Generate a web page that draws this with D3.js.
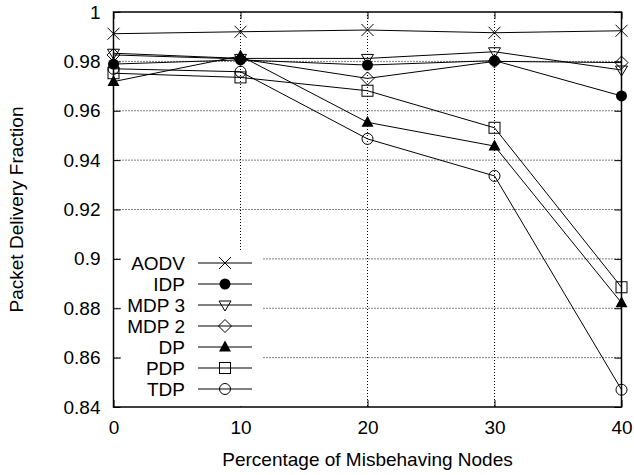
<!DOCTYPE html>
<html><head><meta charset="utf-8">
<script src="https://cdn.jsdelivr.net/npm/d3@7"></script>
<style>
body{margin:0;background:#fff;}
svg text{font-family:"Liberation Sans",Arial,Helvetica,sans-serif;fill:#000;}
</style></head>
<body><svg id="c" width="634" height="475"></svg>
<script>
const xValues = [0, 10, 20, 30, 40];
const seriesNames = ["AODV", "IDP", "MDP 3", "MDP 2", "DP", "PDP", "TDP"];
const aodv = [0.9912, 0.9920, 0.9927, 0.9916, 0.9924];
const idp  = [0.9789, 0.9806, 0.9785, 0.9803, 0.9660];
const mdp3 = [0.9833, 0.9812, 0.9812, 0.9839, 0.9765];
const mdp2 = [0.9826, 0.9810, 0.9731, 0.9800, 0.9795];
const dp   = [0.9718, 0.9822, 0.9553, 0.9457, 0.8822];
const pdp  = [0.9752, 0.9735, 0.9681, 0.9531, 0.8885];
const tdp  = [0.9770, 0.9758, 0.9486, 0.9336, 0.8470];
const xTicks = [0, 10, 20, 30, 40];
const yTicks = [0.84, 0.86, 0.88, 0.9, 0.92, 0.94, 0.96, 0.98, 1];
const yTickLabels = ["0.84", "0.86", "0.88", "0.9", "0.92", "0.94", "0.96", "0.98", "1"];
const markers = ["cross", "fcircle", "dtri", "diamond", "ftri", "square", "circle"];

const series = seriesNames.map((n, i) => ({name: n, values: [aodv, idp, mdp3, mdp2, dp, pdp, tdp][i], marker: markers[i]}));

const svg = d3.select("#c");
const L = 113.5, R = 621.5, T = 12, B = 407;
const x = d3.scaleLinear().domain([0, 40]).range([L, R]);
const y = d3.scaleLinear().domain([0.84, 1]).range([B, T]);

// grid
const g = svg.append("g");
g.selectAll(".gx").data(xTicks.slice(1, -1)).enter().append("line")
  .attr("x1", d => x(d)).attr("x2", d => x(d)).attr("y1", T).attr("y2", B)
  .attr("stroke", "#000").attr("stroke-width", 1).attr("stroke-dasharray", "1,2");
g.selectAll(".gy").data(yTicks.slice(1, -1)).enter().append("line")
  .attr("x1", L).attr("x2", R).attr("y1", d => y(d)).attr("y2", d => y(d))
  .attr("stroke", "#000").attr("stroke-width", 1).attr("stroke-dasharray", "1,2");

// axes
const fs = 19;
const ax = svg.append("g").attr("transform", `translate(0,${B})`)
  .call(d3.axisBottom(x).tickValues(xTicks).tickSize(-7).tickPadding(14).tickFormat(d3.format("d")));
const axT = svg.append("g").attr("transform", `translate(0,${T})`)
  .call(d3.axisTop(x).tickValues(xTicks).tickSize(-7).tickFormat(""));
const ay = svg.append("g").attr("transform", `translate(${L},0)`)
  .call(d3.axisLeft(y).tickValues(yTicks).tickSize(-7).tickPadding(13).tickFormat((d, i) => yTickLabels[i]));
const ayR = svg.append("g").attr("transform", `translate(${R},0)`)
  .call(d3.axisRight(y).tickValues(yTicks).tickSize(-7).tickFormat(""));
[ax, axT, ay, ayR].forEach(a => {
  a.select(".domain").remove();
  a.selectAll("line").attr("stroke", "#000");
  a.selectAll("text").style("font-size", fs + "px").attr("fill", "#000");
});
svg.append("rect").attr("x", L).attr("y", T).attr("width", R - L).attr("height", B - T)
  .attr("fill", "none").attr("stroke", "#000").attr("stroke-width", 1.5);

// legend background
const legX0 = 121, legY0 = 252;
svg.append("rect").attr("x", legX0).attr("y", legY0).attr("width", 142).attr("height", B - legY0 - 1)
  .attr("fill", "#fff");

function drawMarker(sel, type, cx, cy) {
  const s = 6;
  if (type === "cross") {
    sel.append("path").attr("d", `M${cx-s},${cy-s}L${cx+s},${cy+s}M${cx-s},${cy+s}L${cx+s},${cy-s}`)
      .attr("stroke", "#000").attr("stroke-width", 1).attr("fill", "none");
  } else if (type === "fcircle") {
    sel.append("circle").attr("cx", cx).attr("cy", cy).attr("r", 5.5).attr("fill", "#000");
  } else if (type === "circle") {
    sel.append("circle").attr("cx", cx).attr("cy", cy).attr("r", 5.5).attr("fill", "none").attr("stroke", "#000");
  } else if (type === "dtri") {
    sel.append("path").attr("d", `M${cx-6},${cy-4}L${cx+6},${cy-4}L${cx},${cy+6}Z`).attr("fill", "none").attr("stroke", "#000");
  } else if (type === "ftri") {
    sel.append("path").attr("d", `M${cx-6},${cy+4.5}L${cx+6},${cy+4.5}L${cx},${cy-6.5}Z`).attr("fill", "#000");
  } else if (type === "diamond") {
    sel.append("path").attr("d", `M${cx},${cy-6.5}L${cx+6.5},${cy}L${cx},${cy+6.5}L${cx-6.5},${cy}Z`).attr("fill", "none").attr("stroke", "#000");
  } else if (type === "square") {
    sel.append("rect").attr("x", cx - 5.5).attr("y", cy - 5.5).attr("width", 11).attr("height", 11).attr("fill", "none").attr("stroke", "#000");
  }
}

// lines & markers
const line = d3.line().x((d, i) => x(xValues[i])).y(d => y(d));
series.forEach(s => {
  const gs = svg.append("g");
  gs.append("path").attr("d", line(s.values)).attr("fill", "none").attr("stroke", "#000").attr("stroke-width", 1);
  s.values.forEach((v, i) => drawMarker(gs, s.marker, x(xValues[i]), y(v)));
});

// legend
series.forEach((s, i) => {
  const ly = 263 + i * 21;
  const lg = svg.append("g");
  lg.append("text").attr("x", 185).attr("y", ly).attr("dy", "0.35em").attr("text-anchor", "end")
    .style("font-size", fs + "px").text(s.name);
  lg.append("line").attr("x1", 198).attr("x2", 252).attr("y1", ly).attr("y2", ly).attr("stroke", "#000");
  drawMarker(lg, s.marker, 225, ly);
});

// titles
svg.append("text").attr("x", (L + R) / 2).attr("y", 466).attr("text-anchor", "middle")
  .style("font-size", fs + "px").text("Percentage of Misbehaving Nodes");
svg.append("text").attr("transform", `translate(23,${(T + B) / 2}) rotate(-90)`).attr("text-anchor", "middle")
  .style("font-size", fs + "px").text("Packet Delivery Fraction");
</script></body></html>
